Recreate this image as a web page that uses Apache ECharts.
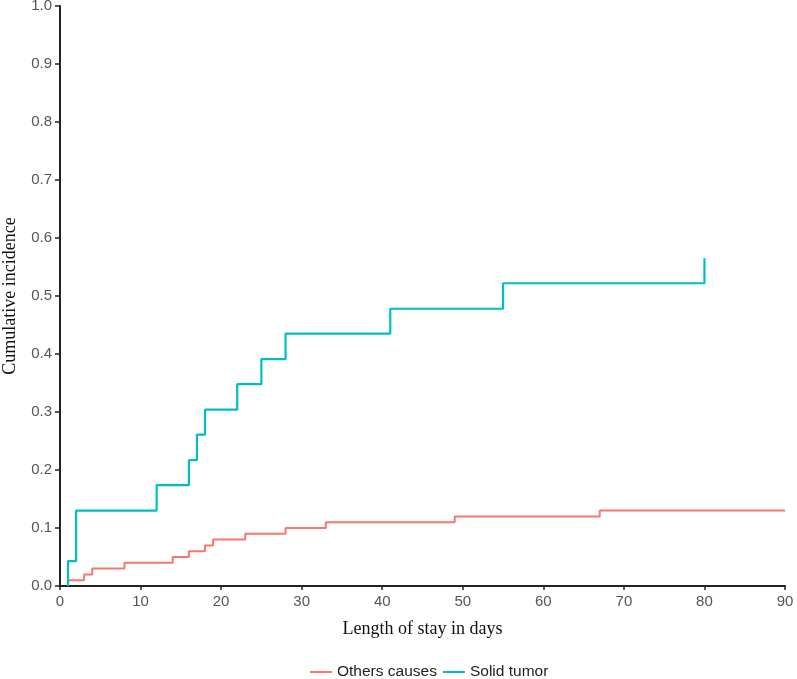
<!DOCTYPE html>
<html>
<head>
<meta charset="utf-8">
<script src="https://cdn.jsdelivr.net/npm/echarts@6/dist/echarts.min.js"></script>
<style>
html,body{margin:0;padding:0;background:#fff;}
#chart{width:797px;height:679px;}
</style>
</head>
<body>
<div id="chart"></div>
<script>
// Data
const otherTimes = [1, 3, 4, 8, 14, 16, 18, 19, 23, 28, 33, 49, 67, 90];
const otherValues = [0.010, 0.020, 0.030, 0.040, 0.050, 0.060, 0.070, 0.080, 0.090, 0.100, 0.110, 0.120, 0.130, 0.130];
const solidTimes = [1, 1, 2, 12, 16, 17, 18, 22, 25, 28, 41, 55, 80];
const solidValues = [0, 0.043, 0.130, 0.174, 0.217, 0.261, 0.304, 0.348, 0.391, 0.435, 0.478, 0.522, 0.565];
const xTicks = [0, 10, 20, 30, 40, 50, 60, 70, 80, 90];
const yTicks = [0.0, 0.1, 0.2, 0.3, 0.4, 0.5, 0.6, 0.7, 0.8, 0.9, 1.0];
const seriesNames = ['Others causes', 'Solid tumor'];
const xTitle = 'Length of stay in days';
const yTitle = 'Cumulative incidence';

const otherData = otherTimes.map((t, i) => [t, otherValues[i]]);
const solidData = solidTimes.map((t, i) => [t, solidValues[i]]);

const chart = echarts.init(document.getElementById('chart'));
const tickFont = { color: '#555', fontFamily: 'Liberation Sans, Arial, sans-serif', fontSize: 15 };

chart.setOption({
  animation: false,
  backgroundColor: '#fff',
  grid: { left: 60, right: 12, top: 6, bottom: 93, containLabel: false, outerBoundsMode: 'none' },
  legend: {
    left: 305, top: 659,
    itemWidth: 22, itemHeight: 2, itemGap: 6,
    icon: 'rect',
    data: seriesNames,
    textStyle: { color: '#222', fontFamily: 'Liberation Sans, Arial, sans-serif', fontSize: 15.5 }
  },
  xAxis: {
    type: 'value', min: xTicks[0], max: xTicks[xTicks.length - 1], interval: 10,
    name: xTitle, nameLocation: 'middle', nameGap: 34,
    nameTextStyle: { fontFamily: 'Liberation Serif, Times New Roman, serif', fontSize: 18, color: '#111' },
    axisLine: { show: true, onZero: false, lineStyle: { color: '#222', width: 2 } },
    axisTick: { show: true, length: 4, lineStyle: { color: '#222', width: 1.5 } },
    axisLabel: Object.assign({ margin: 8 }, tickFont),
    splitLine: { show: false }
  },
  yAxis: {
    type: 'value', min: yTicks[0], max: yTicks[yTicks.length - 1], interval: 0.1,
    name: yTitle, nameLocation: 'middle', nameGap: 41, nameRotate: 90,
    nameTextStyle: { fontFamily: 'Liberation Serif, Times New Roman, serif', fontSize: 18, color: '#111' },
    axisLine: { show: true, onZero: false, lineStyle: { color: '#222', width: 2 } },
    axisTick: { show: true, length: 5, lineStyle: { color: '#222', width: 1.5 } },
    axisLabel: Object.assign({ margin: 8, formatter: v => v.toFixed(1) }, tickFont),
    splitLine: { show: false }
  },
  series: [
    {
      name: seriesNames[0], type: 'line', step: 'end', data: otherData,
      showSymbol: false, symbol: 'none',
      itemStyle: { color: '#F8766D' },
      lineStyle: { color: '#F8766D', width: 2 }
    },
    {
      name: seriesNames[1], type: 'line', step: 'end', data: solidData,
      showSymbol: false, symbol: 'none',
      itemStyle: { color: '#00BFC4' },
      lineStyle: { color: '#00BFC4', width: 2.2 }
    }
  ]
});
</script>
</body>
</html>
